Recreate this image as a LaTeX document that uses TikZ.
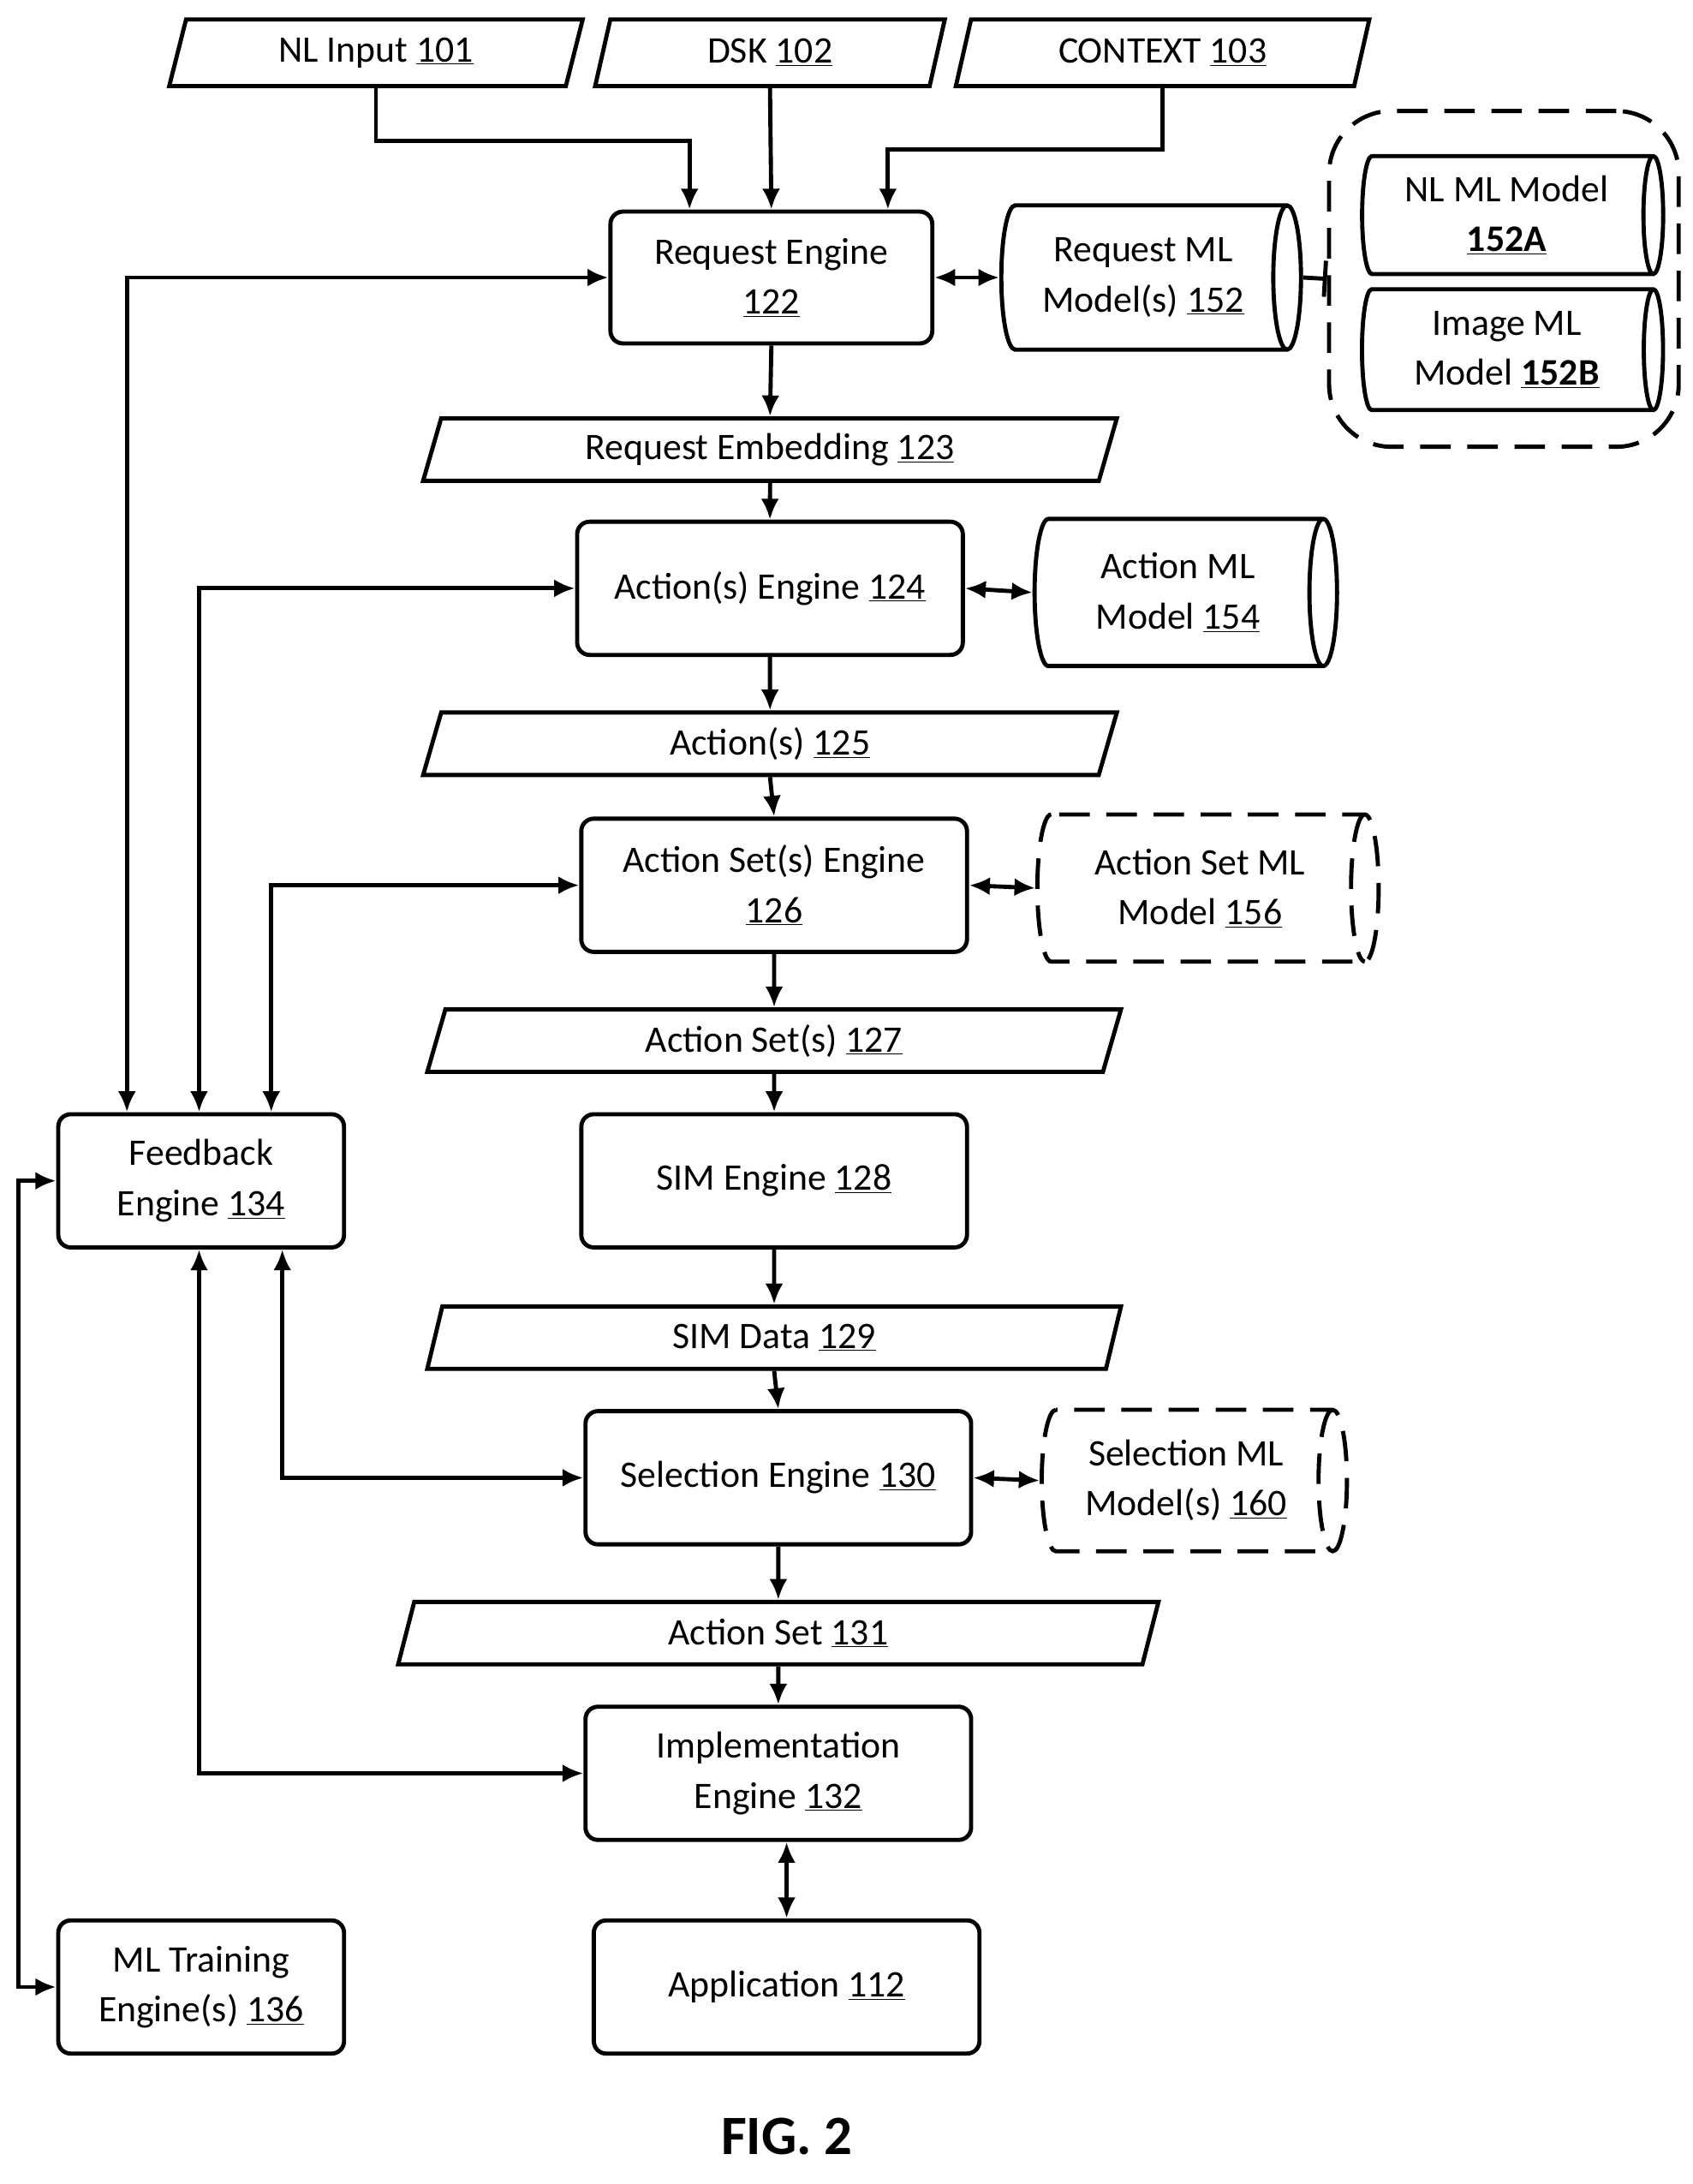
\documentclass[tikz,border=0pt]{standalone}
\usepackage{fontspec}
\setmainfont{Carlito}
\usetikzlibrary{shapes.geometric,arrows.meta}
\begin{document}
\begin{tikzpicture}[x=1pt,y=1pt,line width=3pt,
  every node/.style={font=\fontsize{27}{36}\selectfont,align=center,inner sep=0pt},
  box/.style={draw,rounded corners=9,minimum width=278,minimum height=96},
  para/.style={draw,trapezium,trapezium left angle=61,trapezium right angle=119,trapezium stretches body,minimum height=45,minimum width=500},
  cyl/.style={draw,cylinder,shape aspect=0.35,minimum height=216,minimum width=104},
  ar/.style={-{Latex[length=15,width=13]}},
  dbl/.style={{Latex[length=15,width=13]}-{Latex[length=15,width=13]}}]
\useasboundingbox (0,0) rectangle (1220,-1574);
\node[para,minimum width=298,minimum height=48] (nl) at (271,-38) {NL Input \underline{101}};
\node[para,minimum width=252,minimum height=48] (dsk) at (555,-38) {DSK \underline{102}};
\node[para,minimum width=298,minimum height=48] (ctx) at (838,-38) {CONTEXT \underline{103}};
\node[box,minimum width=232,minimum height=95] (req) at (556,-200) {Request Engine\\\underline{122}};
\node[cyl] (rml) at (824,-200) {Request ML\\Model(s) \underline{152}};
\node[draw,dashed,dash pattern=on 22pt off 12pt,rounded corners=45,minimum width=252,minimum height=242] (grp) at (1084,-201) {};
\node[cyl,minimum height=217,minimum width=85,shape aspect=0.25] (nlm) at (1086,-155) {NL ML Model\\\underline{\textbf{152A}}};
\node[cyl,minimum height=217,minimum width=87,shape aspect=0.25] (img) at (1086,-252) {Image ML\\Model \underline{\textbf{152B}}};
\node[para] (emb) at (555,-324) {Request Embedding \underline{123}};
\node[box] (act) at (555,-424) {Action(s) Engine \underline{124}};
\node[cyl,minimum height=218,minimum width=106] (aml) at (849,-427) {Action ML\\Model \underline{154}};
\node[para] (acts) at (555,-536) {Action(s) \underline{125}};
\node[box] (ase) at (558,-638) {Action Set(s) Engine\\\underline{126}};
\node[cyl,dashed,dash pattern=on 22pt off 12pt,minimum height=246,minimum width=106] (asml) at (865,-640) {Action Set ML\\Model \underline{156}};
\node[para] (aset) at (558,-750) {Action Set(s) \underline{127}};
\node[box] (sim) at (558,-851) {SIM Engine \underline{128}};
\node[para] (simd) at (558,-964) {SIM Data \underline{129}};
\node[box] (sel) at (561,-1065) {Selection Engine \underline{130}};
\node[cyl,dashed,dash pattern=on 22pt off 12pt,minimum height=220,minimum width=102] (selml) at (855,-1067) {Selection ML\\Model(s) \underline{160}};
\node[para,minimum width=548] (as1) at (561,-1177) {Action Set \underline{131}};
\node[box] (impl) at (561,-1278) {Implementation\\Engine \underline{132}};
\node[box] (app) at (567,-1432) {Application \underline{112}};
\node[box,minimum width=206] (fb) at (145,-851) {Feedback\\Engine \underline{134}};
\node[box,minimum width=206] (mlt) at (145,-1432) {ML Training\\Engine(s) \underline{136}};
\node[font=\fontsize{40}{48}\selectfont\bfseries] (fig) at (567,-1540) {FIG. 2};
% top inputs
\draw[ar] (nl.south) -- ++(0,-38) -| ([xshift=-59]req.north);
\draw[ar] (dsk.south) -- (req.north);
\draw[ar] (ctx.south) -- ++(0,-44) -| ([xshift=84]req.north);
\draw[dbl] (req.east) -- (rml.west);
\draw[-{Bar[width=26]}] (rml.east) -- (grp.west);
% main chain
\draw[ar] (req.south) -- (emb.north);
\draw[ar] (emb.south) -- (act.north);
\draw[dbl] (act.east) -- (aml.west);
\draw[ar] (act.south) -- (acts.north);
\draw[ar] (acts.south) -- (ase.north);
\draw[dbl] (ase.east) -- (asml.west);
\draw[ar] (ase.south) -- (aset.north);
\draw[ar] (aset.south) -- (sim.north);
\draw[ar] (sim.south) -- (simd.north);
\draw[ar] (simd.south) -- (sel.north);
\draw[dbl] (sel.east) -- (selml.west);
\draw[ar] (sel.south) -- (as1.north);
\draw[ar] (as1.south) -- (impl.north);
\draw[dbl] ([xshift=6]impl.south) -- (app.north);
% feedback
\draw[dbl] ([xshift=51]fb.north west) |- (req.west);
\draw[dbl] ([xshift=103]fb.north west) |- (act.west);
\draw[dbl] ([xshift=155]fb.north west) |- (ase.west);
\draw[dbl] ([xshift=163]fb.south west) |- (sel.west);
\draw[dbl] ([xshift=103]fb.south west) |- (impl.west);
\draw[dbl] (fb.west) -- ++(-27,0) |- (mlt.west);
\end{tikzpicture}
\end{document}
